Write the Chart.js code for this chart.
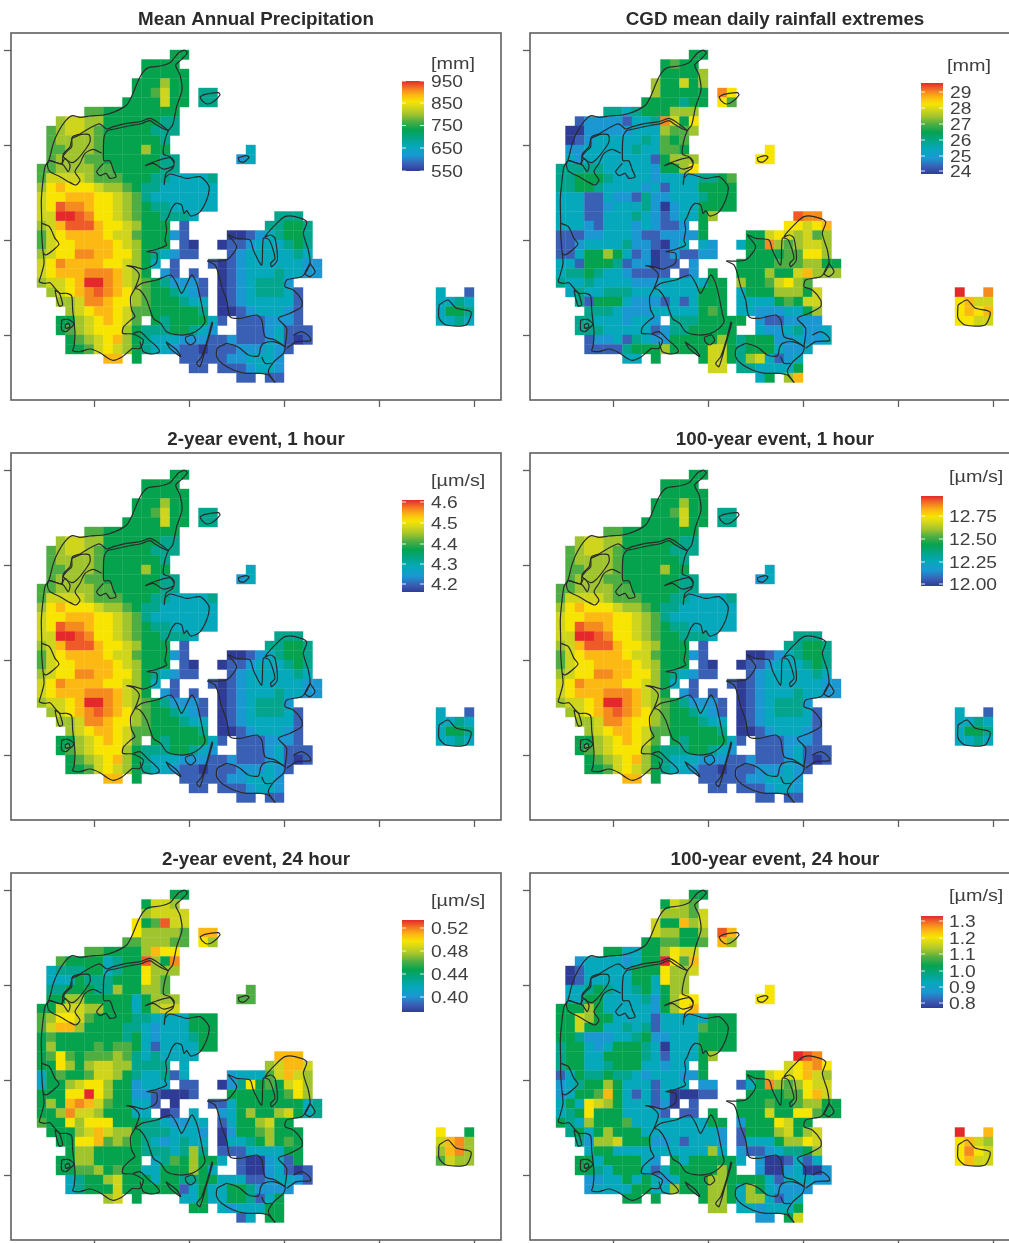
<!DOCTYPE html>
<html><head><meta charset="utf-8">
<style>
html,body{margin:0;padding:0;background:#fff;width:1009px;height:1243px;overflow:hidden;position:relative}
canvas{position:absolute;display:block;filter:blur(0.45px)}
</style>
<script src="https://cdn.jsdelivr.net/npm/chart.js@4/dist/chart.umd.min.js"></script>
</head><body>
<script>
const titles=["Mean Annual Precipitation","CGD mean daily rainfall extremes","2-year event, 1 hour","100-year event, 1 hour","2-year event, 24 hour","100-year event, 24 hour"];
const units=["[mm]","[mm]","[µm/s]","[µm/s]","[µm/s]","[µm/s]"];
const keyLabels=[["950","850","750","650","550"],["29","28","27","26","25","24"],["4.6","4.5","4.4","4.3","4.2"],["12.75","12.50","12.25","12.00"],["0.52","0.48","0.44","0.40"],["1.3","1.2","1.1","1.0","0.9","0.8"]];
const keyMin=[550,23.8,4.16,11.98,0.374,0.77];
const keyMax=[950,29.56,4.61,12.97,0.534,1.33];
const levelStops=[0,.08,.17,.27,.36,.46,.55,.63,.70,.77,.84,.90,.95,1];
const rampColors=["#2f3c96","#3a60b5","#1b97d2","#06a8bc","#03a58c","#06a34f","#4fae43","#a0c42e","#cfd51c","#f7e400","#fdb913","#f58a1f","#ee5a28","#e4282c"];
const xTicks=[282,567,852,1137,1422];
const yTicks=[150,435,720,1005];

const levelsPrecip=[
"..............55","...........5555","...........55555","..........555755","..........556855.44",".........5555855.44",".....6655555555","..7887755555544",".67887655555444",".6777765555554",
".6677765555755........3",".67776655555544......23","667777665555544","6888876665554433334","79a9998776544333333","899aaa9987643333333","89cbba9987654433333","88ddcb99876554443........444","78accca9987555.1........44554","689aaaa988655521....001234554",
"6899aaaa987555.10..0112333454","7899bbaa997543211...123333343","89baaaa998753.1...101233333322","89aaabbba875.21.1..01233343322","7889addba876542221.01234442",".789abcba976554321.012344431","..778bba9976555433.012333331","...789aa9866555554.001233321","..55789a986.54555531.1112221","..56789997544455432..11123111",
"...56789a75433322211211123101","...556898754332110111222321",".......aa.5....11111223332","................11.1112332",".....................11.11"];
const bornPrecip=["3..1","3343","3554","3343"];

const levelsCGD=[
"..............55","...........5655","...........55557","..........755857","..........755555.b9",".........5555455.96",".....4434555777","..122221334b859",".00222223337667",".0123333343656",
".2233333433665........9",".32333333315777......99","444443333325579","4455543333233334456","4455433332313335555","3331132214223334555","3331123334202335555","33311333432123357........cbb","33321333232112.5........9989a","1112233321122225....558987867",
"11233334221023.32..355b767887","11355753120121122...555566997","3315554122011.2....55556667755","344543321111.12.5..5557558a777","433433332223333355.75568976",".34334443333333555.355577758","..4155532221313555.333356588","...444322233333565.332223357","..443332332.44455555.2112222","..44433333124455555..32234223",
"...12231432255555754555223223","...111145557555588545553223",".......33.5....58854783123","................88.4433335",".....................35.7a"];
const bornCGD=["d..b","9a88","9a9a","9988"];

const levels2y24=[
"..............55","...........5887","...........78888","..........956c88","..........977776.aa",".........6677766.97",".....6655557a99","..655553455c75b",".34445534559777",".3335444555976",
".4455544755776........6",".55775555535777......66","558887755535788","6799865555443333555","68aa755554432333555","5655555554532333455","5755556566531333355","56965666764343333........aaa","55975788774444.3........78aa8","3565568875433413....233368a87",
"35578997552333.11..0249565897","55599d97552210001...555555697","575aba8655331.0...113555555534","557b88755533.01.3..23575578534","655979995554432233.13557855",".55578a87754443332.025567555","..5599a67654323433.033457565","...577555554443474.111333355","..557755555.34657553.1002315","..55667565533555753..10023101",
"...34557855535544553331123321","...345558555555135335542222",".......78.5....33533554135","................55.3233355",".....................13.55"];
const born2y24=["9..5","8ab7","7ab7","6877"];

const levels100y24=[
"..............55","...........5876","...........77768","..........855a78","..........877557.ca",".........5566556.a7",".....5533557988","..233332355d96a",".01333335559778",".0133333553977",
".3345433453577........9",".33553333425799......99","55575333332579a","5587553333133333555","5585533434133336555","5542223345223335555","4553235554303335555","45533555543133357........dcb","45533455533233.5........89ab9","1354454432333225....558989a87",
"23455753331333.22..135b767988","23556a53131300011...5555669a8","3539875333120.1....55565567755","345955533331.11.5..55585599655","543755563333333355.25559855",".45357555333333332.155578578","..4277855522313332.133357798","...355333333333373.211234457","..553555532.53555553.2001313","..55435553135555575..20023002",
"...22335353235557755553133322","...233335533755577537532222",".......55.5....57753773123","................77.3323335",".....................22.58"];
const born100y24=["d..a","9a87","9b98","9a88"];

const panelLevels=[levelsPrecip,levelsCGD,levelsPrecip,levelsPrecip,levels2y24,levels100y24];
const panelBorn=[bornPrecip,bornCGD,bornPrecip,bornPrecip,born2y24,born100y24];

const coastWest=[[553,150],[538,157],[524,172],[510,188],[480,198],[445,203],[428,218],[412,248],[397,285],[380,315],[345,335],[310,345],[270,348],[240,352],[217,347],[197,362],[175,395],[160,430],[150,470],[146,482],[135,500],[127,560],[124,600],[125,660],[125,700],[128,745],[132,790],[122,830],[118,845],[135,850],[150,848],[165,865],[180,880],[200,880],[215,888],[218,930],[222,965],[225,1000],[222,1040],[218,1052],[240,1055],[270,1047],[300,1058],[320,1072],[340,1081],[365,1072],[385,1055],[397,1045]];
const coastEast=[[553,150],[562,158],[545,178],[527,195],[540,225],[546,270],[530,320],[518,375],[505,392],[495,420],[490,462],[510,470],[522,482],[520,498],[490,507],[460,490],[436,497],[470,483],[510,473],[522,490],[518,505],[498,520],[493,553],[495,535],[510,522],[560,535],[600,530],[622,550],[628,565],[620,600],[598,638],[572,648],[560,632],[552,640],[545,615],[528,610],[515,625],[505,650],[497,665],[500,690],[495,722],[500,735],[470,748],[440,755],[470,760],[468,790],[432,807],[402,800],[380,797],[400,803],[418,825],[405,865],[392,890],[395,930],[405,950],[392,960],[370,982],[368,1000],[398,1002],[430,1020],[420,1045],[397,1045]];
const limfjordNorth=[[505,392],[488,378],[470,365],[450,355],[420,365],[380,370],[340,380],[320,387],[305,375],[295,372],[268,385],[240,402],[218,410],[210,440],[190,462],[185,490],[150,482]];
const limfjordSouth=[[505,392],[487,385],[465,372],[450,362],[420,372],[385,378],[345,387],[322,392],[312,412],[310,470],[312,482],[330,483],[340,510],[348,530],[330,535],[318,520],[300,527],[290,515],[310,490]];
const nissum=[[305,460],[280,448],[255,460],[240,490],[225,515],[240,540],[228,555],[205,545],[180,530],[150,515],[142,495],[148,482],[175,490],[190,495],[205,515],[210,495],[195,475],[185,495]];
const mors=[[215,415],[245,403],[268,405],[270,425],[255,450],[230,480],[215,488],[190,470],[200,455],[215,440],[215,415]];
const ringkobing=[[125,670],[148,680],[165,715],[177,732],[160,750],[138,765],[130,760]];
const nissumSmall=[[165,870],[178,880],[188,915],[178,918],[170,895],[165,870]];
const romo=[[185,960],[205,958],[222,972],[210,985],[198,995],[185,990],[185,960]];
const romoInner=[[195,975],[205,970],[210,980],[198,985],[195,975]];
const als=[[400,1000],[420,995],[445,1018],[470,1040],[478,1055],[458,1062],[430,1055],[420,1025]];
const fyn=[[405,865],[425,850],[470,840],[512,825],[530,850],[545,880],[575,825],[590,850],[600,890],[610,940],[615,965],[600,985],[575,1000],[540,1005],[500,995],[482,970],[460,955],[440,900],[420,870],[405,865]];
const aero=[[498,1025],[530,1050],[542,1070],[510,1045],[498,1025]];
const tasinge=[[556,1012],[578,1005],[587,1022],[572,1035],[558,1025],[556,1012]];
const langeland=[[636,965],[622,1020],[605,1070],[590,1090],[600,1100],[618,1040],[638,970],[636,965]];
const zealandWest=[[622,783],[645,795],[655,820],[665,860],[680,900],[690,950],[720,955],[770,945],[785,960],[795,1010],[825,1020],[855,1040]];
const zealandEast=[[855,1040],[860,985],[835,955],[870,940],[905,920],[905,900],[880,870],[855,860],[860,840],[905,830],[922,810],[930,790],[925,750],[910,700],[920,665],[885,650],[855,650],[830,670],[795,710],[812,705],[825,715],[832,780],[815,800],[812,790],[825,775],[808,720],[790,715],[785,795],[760,750],[750,720],[710,715],[685,705],[710,740],[680,780],[622,783]];
const amager=[[930,790],[945,815],[930,830],[915,820],[930,790]];
const mon=[[880,1005],[905,995],[928,1010],[932,1022],[890,1025],[860,1045]];
const lolland=[[680,1030],[700,1035],[720,1045],[745,1065],[775,1068],[782,1042],[790,1030],[820,1025],[855,1040],[850,1060],[822,1085],[805,1115],[825,1147],[805,1125],[780,1120],[740,1120],[700,1110],[665,1090],[650,1070],[652,1045],[680,1030]];
const falster=[[785,1070],[795,1090],[815,1090]];
const laeso=[[600,290],[615,283],[655,278],[660,285],[640,305],[622,312],[606,302],[600,290]];
const anholt=[[715,473],[740,467],[747,472],[732,486],[718,484],[715,473]];
const bornholm=[[1317,915],[1344,900],[1368,924],[1413,936],[1398,975],[1338,975],[1317,954],[1317,915]];
const coastlines=[coastWest,coastEast,limfjordNorth,limfjordSouth,nissum,mors,ringkobing,nissumSmall,romo,romoInner,als,fyn,aero,tasinge,langeland,zealandWest,zealandEast,amager,mon,lolland,falster,laeso,anholt,bornholm];

const GRID={x0:111,y0:150,step:28.5};
const BORN={col:42,row:25};
const LEVEL_CHARS="0123456789abcd";

function hex(c){return [1,3,5].map(i=>parseInt(c.substr(i,2),16));}
function rampColor(t){
  t=Math.max(0,Math.min(1,t));
  let i=0;while(i<levelStops.length-2&&t>levelStops[i+1])i++;
  const f=(t-levelStops[i])/(levelStops[i+1]-levelStops[i]);
  const a=hex(rampColors[i]),b=hex(rampColors[i+1]);
  return `rgb(${a.map((v,k)=>Math.round(v+(b[k]-v)*f)).join(",")})`;
}
function cells(rows,startRow,startCol,lo,hi){
  const out=[];
  rows.forEach((row,r)=>{[...row].forEach((ch,c)=>{
    const lv=LEVEL_CHARS.indexOf(ch);
    if(lv<0)return;
    out.push({x:GRID.x0+GRID.step*(startCol+c+.5),y:GRID.y0+GRID.step*(startRow+r+.5),v:lo+levelStops[lv]*(hi-lo)});
  });});
  return out;
}
const FRAME="#5f5f5f";
const keyGeom=[
 {top:81,bot:171,tick:[81,103,125.5,148,171],ux:431,uy:63,lx:431},
 {top:83,bot:174,tick:[92,108,124,140,156,171],ux:428,uy:65,lx:431},
 {top:80,bot:172,tick:[82,103,124,144,164],ux:431,uy:60,lx:431},
 {top:76,bot:166,tick:[96,119,142,164],ux:430,uy:56,lx:430},
 {top:80,bot:172,tick:[88,111,134,157],ux:431,uy:60,lx:431},
 {top:76,bot:168,tick:[81,98,114,131,147,163],ux:430,uy:55,lx:430}
];
function keyPlugin(i){return {id:"key"+i,afterDraw(chart){
  const g=keyGeom[i],ctx=chart.ctx,L=402,R=424;
  ctx.save();
  ctx.strokeStyle=FRAME;ctx.lineWidth=1.6;
  const a=chart.chartArea;ctx.strokeRect(a.left,a.top,a.right-a.left,a.bottom-a.top);
  const grd=ctx.createLinearGradient(0,g.bot,0,g.top);
  levelStops.forEach((t,k)=>grd.addColorStop(t,rampColors[k]));
  ctx.fillStyle=grd;ctx.fillRect(L,g.top,R-L,g.bot-g.top);
  ctx.fillStyle="rgba(255,255,255,.85)";
  g.tick.forEach(y=>{ctx.fillRect(L,y-.5,4,1);ctx.fillRect(R-4,y-.5,4,1);});
  ctx.fillStyle="#3f3f3f";ctx.textBaseline="middle";ctx.textAlign="left";
  const put=(s,x,y)=>{ctx.save();ctx.translate(x,y+1.5);ctx.scale(1.2,1);ctx.fillText(s,0,0);ctx.restore();};
  ctx.font='16px "Liberation Sans"';
  keyLabels[i].forEach((s,k)=>put(s,g.lx,g.tick[k]));
  ctx.font='16.5px "Liberation Sans"';
  put(units[i],g.ux,g.uy);
  ctx.restore();
}};}
function makeChart(i){
  const col=i%2,row=Math.floor(i/2);
  const cv=document.createElement("canvas");
  cv.width=510;cv.height=420;
  cv.style.left=(519*col)+"px";cv.style.top=(420*row)+"px";
  document.body.appendChild(cv);
  const lo=keyMin[i],hi=keyMax[i];
  const pts=cells(panelLevels[i],0,0,lo,hi).concat(cells(panelBorn[i],BORN.row,BORN.col,lo,hi));
  const lineSets=coastlines.map(c=>({type:"scatter",showLine:true,data:c.map(p=>({x:p[0],y:p[1]})),borderColor:"#2a2a2a",borderWidth:1.2,pointRadius:0,tension:.25,fill:false}));
  new Chart(cv,{type:"scatter",
    data:{datasets:[...lineSets,{
      data:pts,pointStyle:"rect",borderWidth:0,pointBorderWidth:0,
      pointBackgroundColor:pts.map(p=>rampColor((p.v-lo)/(hi-lo))),
      pointRadius:ctx=>{const s=ctx.chart.scales.x;return Math.abs(s.getPixelForValue(GRID.step)-s.getPixelForValue(0))/Math.SQRT2*1.04;}
    }]},
    plugins:[keyPlugin(i)],
    options:{responsive:false,animation:false,events:[],
      layout:{padding:{right:9}},
      plugins:{legend:{display:false},tooltip:{enabled:false},
        title:{display:true,text:titles[i],fullSize:false,color:"#2b2b2b",font:{family:'"Liberation Sans"',size:18.8,weight:"bold"},padding:{top:8.2,bottom:2.24}}},
      scales:{
        x:{type:"linear",min:33,max:1503,
          afterFit(s){s.height=20;},afterBuildTicks(s){s.ticks=xTicks.map(v=>({value:v}));},
          ticks:{display:false},border:{display:false},
          grid:{drawOnChartArea:false,drawTicks:true,tickLength:7,tickColor:FRAME,tickWidth:1.3}},
        y:{type:"linear",min:99,max:1200,reverse:true,
          afterFit(s){s.width=11;},afterBuildTicks(s){s.ticks=yTicks.map(v=>({value:v}));},
          ticks:{display:false},border:{display:false},
          grid:{drawOnChartArea:false,drawTicks:true,tickLength:7,tickColor:FRAME,tickWidth:1.3}}
      }}
  });
}
titles.forEach((_,i)=>makeChart(i));
</script>
</body></html>
